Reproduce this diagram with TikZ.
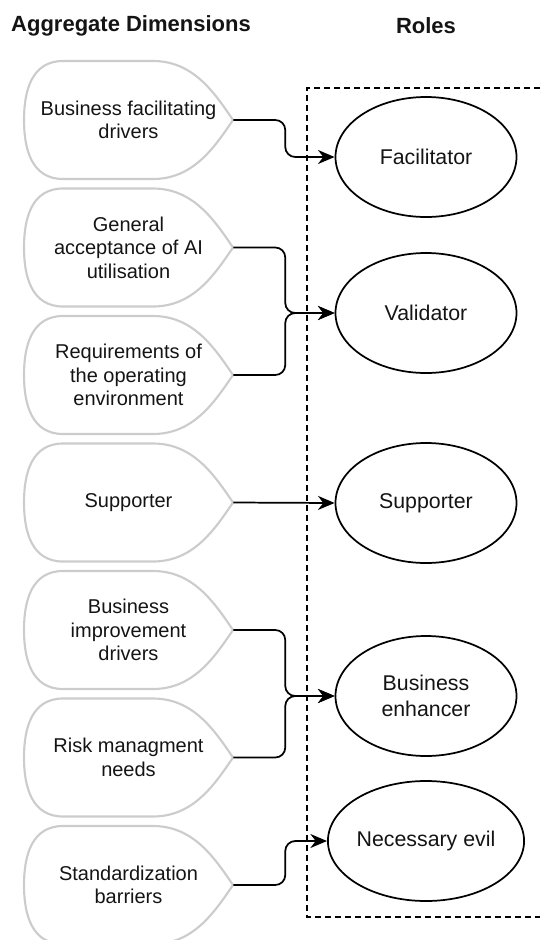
\documentclass[tikz,border=0pt]{standalone}
\usepackage{fontspec}
\setmainfont{Liberation Sans}
\usetikzlibrary{shapes.geometric,arrows.meta}
\definecolor{leafgray}{RGB}{204,204,204}
\definecolor{inkblack}{RGB}{20,20,20}

\begin{document}
\begin{tikzpicture}[x=0.75pt,y=0.75pt,yscale=-1,xscale=1,
  leafline/.style={draw=leafgray,line width=1.6pt,line join=round},
  dimtext/.style={inner sep=0pt,minimum width=156.75pt,minimum height=88.5pt,align=center,
    text=inkblack,font=\fontsize{15}{17.7}\selectfont},
  role/.style={draw,ellipse,line width=1.3pt,inner sep=0pt,minimum width=135.75pt,
    minimum height=90pt,align=center,text=inkblack,font=\fontsize{16}{20}\selectfont},
  conn/.style={line width=1.3pt,rounded corners=7.5pt,-{Stealth[length=12.5pt,width=10.5pt,inset=4pt]}},
  roleframe/.style={line width=1.1pt,dash pattern=on 4.5pt off 3pt}]
\useasboundingbox (0,0) rectangle (540,940);

% Headings
\node[font=\fontsize{16.5}{20}\selectfont\bfseries,text=inkblack] (head1) at (131,26) {Aggregate Dimensions};
\node[font=\fontsize{16.5}{20}\selectfont\bfseries,text=inkblack] (head2) at (426,26) {Roles};

%Shape: Dashed frame round the roles
\draw[roleframe] (540,88) -- (307,88) -- (307,917) -- (540,917);

%Shapes: aggregate dimensions
\foreach \k/\txt in {1/{Business facilitating\\drivers},
    2/{General\\acceptance of AI\\utilisation},
    3/{Requirements of\\the operating\\environment},
    4/{Supporter},
    5/{Business\\improvement\\drivers},
    6/{Risk managment\\needs},
    7/{Standardization\\barriers}}{
  \pgfmathsetmacro{\yc}{120+127.5*(\k-1)}
  \draw[leafline] (63,\yc-59) -- (153,\yc-59) .. controls (193,\yc-59) and (214,\yc-28) .. (233,\yc) .. controls (214,\yc+28) and (193,\yc+59) .. (153,\yc+59) -- (63,\yc+59) .. controls (32,\yc+59) and (24,\yc+30) .. (24,\yc) .. controls (24,\yc-30) and (32,\yc-59) .. (63,\yc-59) -- cycle ;
  \node[dimtext] (dim\k) at (128.5,\yc) {\txt};
}

%Shapes: roles
\node[role] (fac) at (426,157) {Facilitator};
\node[role] (val) at (426,313) {Validator};
\node[role] (sup) at (426,503) {Supporter};
\node[role] (enh) at (426,696) {Business\\enhancer};
\node[role] (evil) at (426,841) {Necessary evil};

%Connectors
\draw[conn] (dim1.east) -- ++(52,0) |- (fac.west);
\draw[conn] (dim2.east) -- ++(52,0) |- (val.west);
\draw[conn] (dim3.east) -- ++(52,0) |- (val.west);
\draw[conn] (dim4.east) -- (sup.west);
\draw[conn] (dim5.east) -- ++(52,0) |- (enh.west);
\draw[conn] (dim6.east) -- ++(52,0) |- (enh.west);
\draw[conn] (dim7.east) -- ++(52,0) |- (evil.west);

\end{tikzpicture}
\end{document}
